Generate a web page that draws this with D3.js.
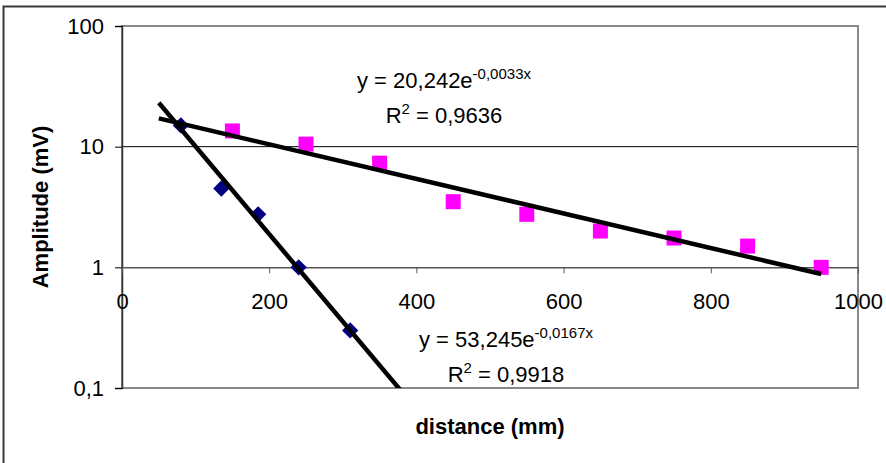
<!DOCTYPE html>
<html>
<head>
<meta charset="utf-8">
<script src="https://cdn.jsdelivr.net/npm/d3@7"></script>
<style>
  body { margin: 0; background: #fff; }
  svg { display: block; font-family: "Liberation Sans", Arial, sans-serif; }
</style>
</head>
<body>
<script>
var nearX = [80, 135, 185, 240, 310];
var nearY = [15, 4.5, 2.75, 1, 0.3];

var farX = [150, 250, 350, 450, 550, 650, 750, 850, 950];
var farY = [13.5, 10.5, 7.3, 3.5, 2.75, 2, 1.75, 1.5, 1];

// Exponential trendlines: y = a * e^(b x)
var fitA = [53.245, 20.242];
var fitB = [-0.0167, -0.0033];
var fitR2 = [0.9918, 0.9636];
var fitFrom = [50, 50];
var fitTo = [400, 950];

var xTicks = [0, 200, 400, 600, 800, 1000];
var yTicks = [0.1, 1, 10, 100];

(function() {

var W = 886, H = 463;
var pLeft = 122, pRight = 858, pTop = 26, pBottom = 388;

var svg = d3.select("body").append("svg")
  .attr("width", W)
  .attr("height", H);

var x = d3.scaleLinear().domain([0, 1000]).range([pLeft, pRight]);
var y = d3.scaleLog().domain([0.1, 100]).range([pBottom, pTop]);

var comma = d3.formatLocale({decimal: ",", thousands: " ", grouping: [3], currency: ["", ""], minus: "-"});
var fmtTick = function(d) { return d < 1 ? comma.format(".1f")(d) : String(d); };

// Chart area border
svg.append("rect")
  .attr("x", 3.5).attr("y", 6.5)
  .attr("width", 1000).attr("height", 1000)
  .attr("fill", "none")
  .attr("stroke", "#3a3a3a")
  .attr("stroke-width", 2);

svg.append("defs").append("clipPath").attr("id", "plotclip")
  .append("rect")
  .attr("x", pLeft).attr("y", pTop)
  .attr("width", pRight - pLeft).attr("height", pBottom - pTop);

// Gridlines (decades)
svg.append("g")
  .selectAll("line")
  .data([10])
  .join("line")
  .attr("x1", pLeft).attr("x2", pRight)
  .attr("y1", function(d) { return y(d); })
  .attr("y2", function(d) { return y(d); })
  .attr("stroke", "#000")
  .attr("stroke-width", 1);

// Plot area border (gray)
svg.append("rect")
  .attr("x", pLeft).attr("y", pTop)
  .attr("width", pRight - pLeft).attr("height", pBottom - pTop)
  .attr("fill", "none")
  .attr("stroke", "#888")
  .attr("stroke-width", 2);

// Y axis
var yAxis = svg.append("g")
  .attr("transform", "translate(" + pLeft + ",0)")
  .call(d3.axisLeft(y).tickValues(yTicks).tickFormat(fmtTick).tickSize(7).tickPadding(11));
yAxis.select(".domain").attr("stroke", "#333").attr("stroke-width", 1.5);
yAxis.selectAll(".tick line").attr("stroke", "#000");
yAxis.selectAll(".tick text")
  .attr("font-size", 22)
  .attr("font-family", "Liberation Sans, Arial, sans-serif")
  .attr("fill", "#000");

// X axis, crossing at y = 1
var xAxis = svg.append("g")
  .attr("transform", "translate(0," + y(1) + ")")
  .call(d3.axisBottom(x).tickValues(xTicks).tickFormat(d3.format("d")).tickSize(6).tickSizeOuter(0).tickPadding(20));
xAxis.select(".domain").attr("stroke", "#555").attr("stroke-width", 1.5);
xAxis.selectAll(".tick line").attr("stroke", "#555");
xAxis.selectAll(".tick text")
  .attr("font-size", 22)
  .attr("font-family", "Liberation Sans, Arial, sans-serif")
  .attr("fill", "#000");

// Markers
svg.append("g")
  .selectAll("rect")
  .data(d3.zip(farX, farY))
  .join("rect")
  .attr("x", function(d) { return x(d[0]) - 7.5; })
  .attr("y", function(d) { return y(d[1]) - 7.5; })
  .attr("width", 15).attr("height", 15)
  .attr("fill", "#ff00ff");

svg.append("g")
  .selectAll("path")
  .data(d3.zip(nearX, nearY))
  .join("path")
  .attr("d", d3.symbol().type(d3.symbolDiamond2).size(170))
  .attr("transform", function(d) { return "translate(" + x(d[0]) + "," + y(d[1]) + ")"; })
  .attr("fill", "#000080");

// Trendlines
var line = d3.line()
  .x(function(d) { return x(d[0]); })
  .y(function(d) { return y(d[1]); });

svg.append("g")
  .attr("clip-path", "url(#plotclip)")
  .selectAll("path")
  .data(fitA.map(function(a, i) {
    return [fitFrom[i], fitTo[i]].map(function(v) { return [v, a * Math.exp(fitB[i] * v)]; });
  }))
  .join("path")
  .attr("d", line)
  .attr("fill", "none")
  .attr("stroke", "#000")
  .attr("stroke-width", 4.5);

// Equation labels
var eqPos = [[506, 347], [444, 88]];
fitA.forEach(function(a, i) {
  var g = svg.append("g").attr("font-size", 22).attr("fill", "#000");
  var t1 = g.append("text")
    .attr("x", eqPos[i][0]).attr("y", eqPos[i][1])
    .attr("text-anchor", "middle");
  t1.append("tspan").text("y = " + comma.format(".3f")(a) + "e");
  t1.append("tspan").attr("dy", -9).attr("font-size", 15).text(comma.format(".4f")(fitB[i]) + "x");

  var t2 = g.append("text")
    .attr("x", eqPos[i][0]).attr("y", eqPos[i][1] + 35)
    .attr("text-anchor", "middle");
  t2.append("tspan").text("R");
  t2.append("tspan").attr("dy", -9).attr("font-size", 15).text("2");
  t2.append("tspan").attr("dy", 9).text(" = " + comma.format(".4f")(fitR2[i]));
});

// Axis titles
svg.append("text")
  .attr("x", 490).attr("y", 434)
  .attr("text-anchor", "middle")
  .attr("font-size", 22).attr("font-weight", "bold")
  .text("distance (mm)");

svg.append("text")
  .attr("transform", "translate(48," + ((pTop + pBottom) / 2) + ") rotate(-90)")
  .attr("text-anchor", "middle")
  .attr("font-size", 22).attr("font-weight", "bold")
  .text("Amplitude (mV)");

})();
</script>
</body>
</html>
